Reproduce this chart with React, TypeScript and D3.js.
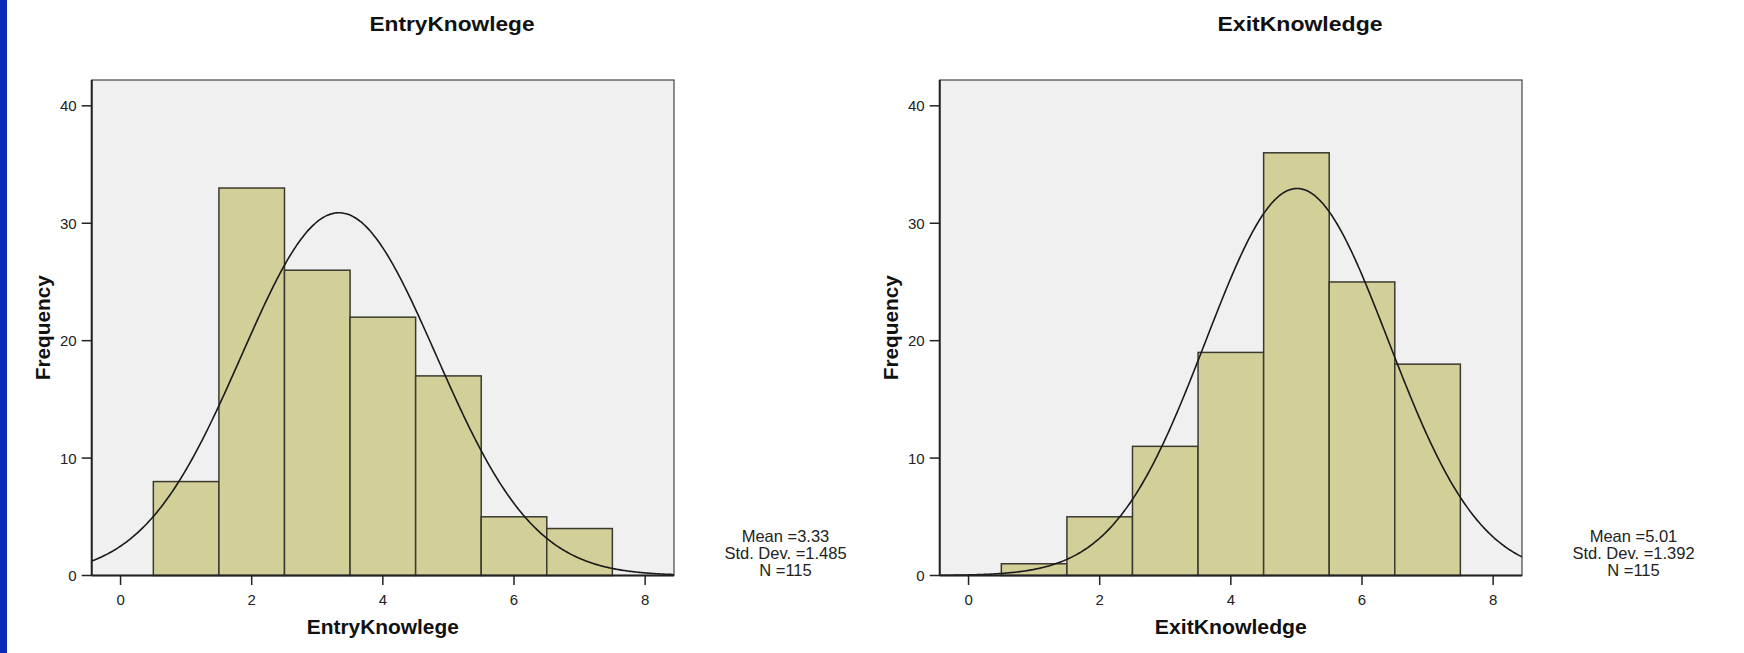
import React from "react";
import * as d3 from "d3";

// Histogram bins (unit width, centred on integers)
const binCenters = [1, 2, 3, 4, 5, 6, 7];
const entryCounts = [8, 33, 26, 22, 17, 5, 4];
const exitCounts = [1, 5, 11, 19, 36, 25, 18];

const xTicks = [0, 2, 4, 6, 8];
const yTicks = [0, 10, 20, 30, 40];

const entryStats = { mean: 3.33, sd: 1.485, n: 115 };
const exitStats = { mean: 5.01, sd: 1.392, n: 115 };

const panels = [
  { name: "EntryKnowlege", counts: entryCounts, stats: entryStats, meanText: "3.33", sdText: "1.485" },
  { name: "ExitKnowledge", counts: exitCounts, stats: exitStats, meanText: "5.01", sdText: "1.392" },
];

const W = 1744;
const H = 653;
const PANEL_OFFSET = 848;
const PLOT_LEFT = 91.7;
const PLOT_RIGHT = 674;
const PLOT_TOP = 80;
const PLOT_BOTTOM = 575.5;

const FONT = "'Liberation Sans', Arial, Helvetica, sans-serif";

function normalPdf(x: number, mean: number, sd: number) {
  const z = (x - mean) / sd;
  return Math.exp(-0.5 * z * z) / (sd * Math.sqrt(2 * Math.PI));
}

function Panel({ idx }: { idx: number }) {
  const p = panels[idx];
  const ox = idx * PANEL_OFFSET;
  const x = d3.scaleLinear().domain([-0.44, 8.44]).range([PLOT_LEFT + ox, PLOT_RIGHT + ox]);
  const y = d3.scaleLinear().domain([0, 42.2]).range([PLOT_BOTTOM, PLOT_TOP]);

  const [d0, d1] = x.domain();
  const curvePts = d3.range(0, 401).map((i) => {
    const v = d0 + ((d1 - d0) * i) / 400;
    return [v, p.stats.n * 1 * normalPdf(v, p.stats.mean, p.stats.sd)] as [number, number];
  });
  const line = d3
    .line<[number, number]>()
    .x((d) => x(d[0]))
    .y((d) => y(d[1]))
    .curve(d3.curveBasis);

  const clipId = `clip-${idx}`;
  const plotX0 = x(d0);
  const plotX1 = x(d1);
  const cx = (plotX0 + plotX1) / 2;
  const cy = (PLOT_TOP + PLOT_BOTTOM) / 2;
  const statsX = 785.5 + ox;

  return (
    <g>
      <defs>
        <clipPath id={clipId}>
          <rect x={plotX0} y={PLOT_TOP} width={plotX1 - plotX0} height={PLOT_BOTTOM - PLOT_TOP} />
        </clipPath>
      </defs>
      {/* Title */}
      <text
        x={452 + ox}
        y={31}
        textAnchor="middle"
        fontFamily={FONT}
        fontWeight="bold"
        fontSize={20}
        fill="#111"
        textLength={idx === 0 ? 165 : 165}
        lengthAdjust="spacingAndGlyphs"
      >
        {p.name}
      </text>

      {/* Plot background */}
      <rect
        x={plotX0}
        y={PLOT_TOP}
        width={plotX1 - plotX0}
        height={PLOT_BOTTOM - PLOT_TOP}
        fill="#f0f0f0"
        stroke="#444"
        strokeWidth={1.2}
      />

      {/* Bars */}
      {binCenters.map((c, i) => (
        <rect
          key={c}
          x={x(c - 0.5)}
          y={y(p.counts[i])}
          width={x(c + 0.5) - x(c - 0.5)}
          height={y(0) - y(p.counts[i])}
          fill="#d3cf98"
          stroke="#3a3a30"
          strokeWidth={1.5}
        />
      ))}

      {/* Normal curve */}
      <path
        d={line(curvePts) || ""}
        fill="none"
        stroke="#1a1a1a"
        strokeWidth={1.6}
        clipPath={`url(#${clipId})`}
      />

      {/* Axes */}
      <line x1={plotX0} x2={plotX0} y1={PLOT_TOP} y2={PLOT_BOTTOM} stroke="#222" strokeWidth={2} />
      <line x1={plotX0} x2={plotX1} y1={PLOT_BOTTOM} y2={PLOT_BOTTOM} stroke="#222" strokeWidth={2} />

      {yTicks.map((t) => (
        <g key={`y${t}`}>
          <line x1={plotX0 - 10} x2={plotX0} y1={y(t)} y2={y(t)} stroke="#222" strokeWidth={1.5} />
          <text
            x={plotX0 - 15}
            y={y(t) + 5.5}
            textAnchor="end"
            fontFamily={FONT}
            fontSize={15}
            fill="#222"
          >
            {t}
          </text>
        </g>
      ))}

      {xTicks.map((t) => (
        <g key={`x${t}`}>
          <line x1={x(t)} x2={x(t)} y1={PLOT_BOTTOM} y2={PLOT_BOTTOM + 9.5} stroke="#222" strokeWidth={1.5} />
          <text
            x={x(t)}
            y={605}
            textAnchor="middle"
            fontFamily={FONT}
            fontSize={15}
            fill="#222"
          >
            {t}
          </text>
        </g>
      ))}

      {/* Axis titles */}
      <text
        x={cx}
        y={634.3}
        textAnchor="middle"
        fontFamily={FONT}
        fontWeight="bold"
        fontSize={20}
        fill="#111"
        textLength={152}
        lengthAdjust="spacingAndGlyphs"
      >
        {p.name}
      </text>
      <text
        transform={`translate(${49.5 + ox},${cy}) rotate(-90)`}
        textAnchor="middle"
        fontFamily={FONT}
        fontWeight="bold"
        fontSize={20}
        fill="#111"
        textLength={105}
        lengthAdjust="spacingAndGlyphs"
      >
        Frequency
      </text>

      {/* Summary statistics */}
      <g fontFamily={FONT} fontSize={16.5} fill="#222" textAnchor="middle">
        <text x={statsX} y={541.5}>{`Mean =${p.meanText}`}</text>
        <text x={statsX} y={558.8}>{`Std. Dev. =${p.sdText}`}</text>
        <text x={statsX} y={575.5}>{`N =${p.stats.n}`}</text>
      </g>
    </g>
  );
}

export default function App() {
  return (
    <svg
      width={W}
      height={H}
      viewBox={`0 0 ${W} ${H}`}
      style={{ position: "absolute", left: 0, top: 0, display: "block" }}
    >
      <rect x={0} y={0} width={W} height={H} fill="#ffffff" />
      <rect x={0} y={0} width={7} height={H} fill="#0a2bb5" />
      {panels.map((_, i) => (
        <Panel key={i} idx={i} />
      ))}
    </svg>
  );
}
